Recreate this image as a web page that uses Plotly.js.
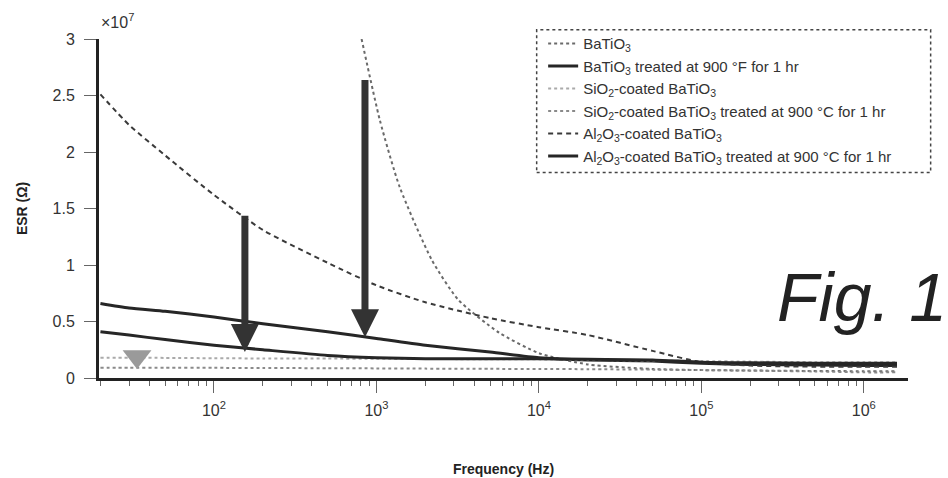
<!DOCTYPE html>
<html>
<head>
<meta charset="utf-8">
<script src="https://cdn.plot.ly/plotly-3.0.1.min.js"></script>
<style>html,body{margin:0;padding:0;background:#fff;}#chart{width:948px;height:478px;}</style>
</head>
<body>
<div id="chart"></div>
<script>
// ---- data (frequency in Hz, ESR in ohm) ----
const freqBa = [810, 1050, 1390, 2200, 3200, 5700, 10000, 20000, 50000, 100000, 1000000, 1600000];
const esrBa = [3.0e7, 2.28e7, 1.69e7, 1.04e7, 0.69e7, 0.40e7, 0.22e7, 0.12e7, 0.08e7, 0.07e7, 0.06e7, 0.06e7];

const freqMain = [20, 30, 50, 100, 200, 500, 1000, 2000, 5000, 10000, 20000, 50000, 100000, 200000, 500000, 1000000, 1600000];
const esrBaTreated = [0.66e7, 0.62e7, 0.59e7, 0.54e7, 0.48e7, 0.41e7, 0.35e7, 0.29e7, 0.23e7, 0.18e7, 0.16e7, 0.15e7, 0.13e7, 0.12e7, 0.115e7, 0.11e7, 0.11e7];
const esrSi = [0.18e7, 0.18e7, 0.178e7, 0.175e7, 0.173e7, 0.172e7, 0.17e7, 0.168e7, 0.166e7, 0.165e7, 0.16e7, 0.155e7, 0.15e7, 0.145e7, 0.14e7, 0.14e7, 0.14e7];
const esrSiTreated = [0.09e7, 0.09e7, 0.09e7, 0.09e7, 0.088e7, 0.087e7, 0.085e7, 0.083e7, 0.081e7, 0.08e7, 0.078e7, 0.074e7, 0.07e7, 0.065e7, 0.058e7, 0.05e7, 0.05e7];
const esrAl = [2.51e7, 2.24e7, 1.97e7, 1.62e7, 1.31e7, 1.02e7, 0.82e7, 0.67e7, 0.53e7, 0.45e7, 0.38e7, 0.24e7, 0.14e7, 0.11e7, 0.10e7, 0.10e7, 0.10e7];
const esrAlTreated = [0.41e7, 0.38e7, 0.34e7, 0.29e7, 0.25e7, 0.20e7, 0.18e7, 0.17e7, 0.17e7, 0.17e7, 0.165e7, 0.16e7, 0.14e7, 0.135e7, 0.13e7, 0.13e7, 0.13e7];

const seriesNames = [
  'BaTiO<sub>3</sub>',
  'BaTiO<sub>3</sub> treated at 900 °F for 1 hr',
  'SiO<sub>2</sub>-coated BaTiO<sub>3</sub>',
  'SiO<sub>2</sub>-coated BaTiO<sub>3</sub> treated at 900 °C for 1 hr',
  'Al<sub>2</sub>O<sub>3</sub>-coated BaTiO<sub>3</sub>',
  'Al<sub>2</sub>O<sub>3</sub>-coated BaTiO<sub>3</sub> treated at 900 °C for 1 hr'
];

// arrows: treatment effect
const arrowFreq = [155, 850];
const arrowFrom = [1.45e7, 2.65e7];
const arrowTo = [0.23e7, 0.36e7];
// SiO2 arrow head only
const triFreq = [33.6];
const triEsr = [0.19e7];

const yTickVals = [0, 0.5e7, 1e7, 1.5e7, 2e7, 2.5e7, 3e7];
const yTickText = ['0', '0.5', '1', '1.5', '2', '2.5', '3'];
const xTickVals = [1e2, 1e3, 1e4, 1e5, 1e6];
const xTickText = ['10<sup>2</sup>', '10<sup>3</sup>', '10<sup>4</sup>', '10<sup>5</sup>', '10<sup>6</sup>'];

const minorVals = [];
for (let d = 1; d <= 6; d++) for (let m = 2; m <= 9; m++) minorVals.push(m * Math.pow(10, d));

const styles = [
  {color: '#6a6a6a', width: 2, dash: '3px,3px'},
  {color: '#262626', width: 3, dash: 'solid'},
  {color: '#aaaaaa', width: 2, dash: 'dot'},
  {color: '#8a8a8a', width: 2, dash: 'dot'},
  {color: '#3a3a3a', width: 2, dash: '5px,4px'},
  {color: '#262626', width: 3, dash: 'solid'}
];
const xs = [freqBa, freqMain, freqMain, freqMain, freqMain, freqMain];
const ys = [esrBa, esrBaTreated, esrSi, esrSiTreated, esrAl, esrAlTreated];

const traces = ys.map((y, i) => ({
  type: 'scatter', mode: 'lines', x: xs[i], y: y, name: seriesNames[i],
  legendgroup: 'g' + i, line: Object.assign({shape: 'spline', smoothing: 0.6}, styles[i])
}));
traces.push({
  type: 'scatter', mode: 'markers', x: triFreq, y: triEsr, showlegend: false,
  marker: {symbol: 'triangle-down', size: 25, color: '#9a9a9a'}
});

const annotations = arrowFreq.map((f, i) => ({
  x: Math.log10(f), y: arrowTo[i], xref: 'x', yref: 'y',
  ax: Math.log10(f), ay: arrowFrom[i], axref: 'x', ayref: 'y',
  text: '', showarrow: true, arrowhead: 2, arrowwidth: 7, arrowsize: 0.8,
  arrowcolor: '#333', standoff: 0, startstandoff: 0
}));
annotations.push({
  text: '×10<sup>7</sup>', xref: 'paper', yref: 'paper', x: 0, y: 1,
  xanchor: 'left', yanchor: 'bottom', yshift: 6, showarrow: false,
  font: {size: 16, color: '#333'}
});
annotations.push({
  text: '<i>Fig. 1</i>', xref: 'paper', yref: 'paper', x: 0.836, y: 0.24,
  xanchor: 'left', yanchor: 'middle', showarrow: false,
  font: {size: 68, color: '#222'}
});

const layout = {
  width: 948, height: 478,
  margin: {l: 99, r: 40, t: 39, b: 100},
  paper_bgcolor: '#fff', plot_bgcolor: '#fff',
  font: {family: 'Liberation Sans, Arial, sans-serif', color: '#333'},
  showlegend: true,
  legend: {
    x: 0.549, y: 1.035, xanchor: 'left', yanchor: 'top',
    bgcolor: 'rgba(0,0,0,0)', borderwidth: 0, tracegroupgap: 0,
    font: {size: 15, color: '#333'}
  },
  xaxis: {
    type: 'log', range: [Math.log10(19.6), Math.log10(1.87e6)],
    tickmode: 'array', tickvals: xTickVals, ticktext: xTickText,
    ticks: 'outside', ticklen: 12, tickwidth: 1, tickcolor: '#666',
    minor: {tickmode: 'array', tickvals: minorVals, ticks: 'outside', ticklen: 5, tickwidth: 1, tickcolor: '#666'},
    showline: true, linewidth: 3, linecolor: '#222', showgrid: false, zeroline: false,
    tickfont: {size: 16, color: '#333'}, ticklabelstandoff: 4,
    title: {text: 'Frequency (Hz)', font: {size: 14, weight: 'bold', color: '#222'}, standoff: 46}
  },
  yaxis: {
    range: [0, 3e7], tickmode: 'array', tickvals: yTickVals, ticktext: yTickText,
    ticks: 'outside', ticklen: 12, tickwidth: 1, tickcolor: '#666',
    showline: true, linewidth: 3, linecolor: '#222', showgrid: false, zeroline: false,
    tickfont: {size: 16, color: '#333'}, ticklabelstandoff: 6,
    title: {text: 'ESR (Ω)', font: {size: 14, weight: 'bold', color: '#222'}, standoff: 22}
  },
  shapes: [{
    type: 'rect', xref: 'paper', yref: 'paper',
    x0: 0.541, x1: 1.028, y0: 0.606, y1: 1.027,
    line: {color: '#444', width: 1.5, dash: 'dot'}, fillcolor: 'rgba(0,0,0,0)'
  }],
  annotations: annotations
};

Plotly.newPlot('chart', traces, layout, {displayModeBar: false, staticPlot: true});
</script>
</body>
</html>
